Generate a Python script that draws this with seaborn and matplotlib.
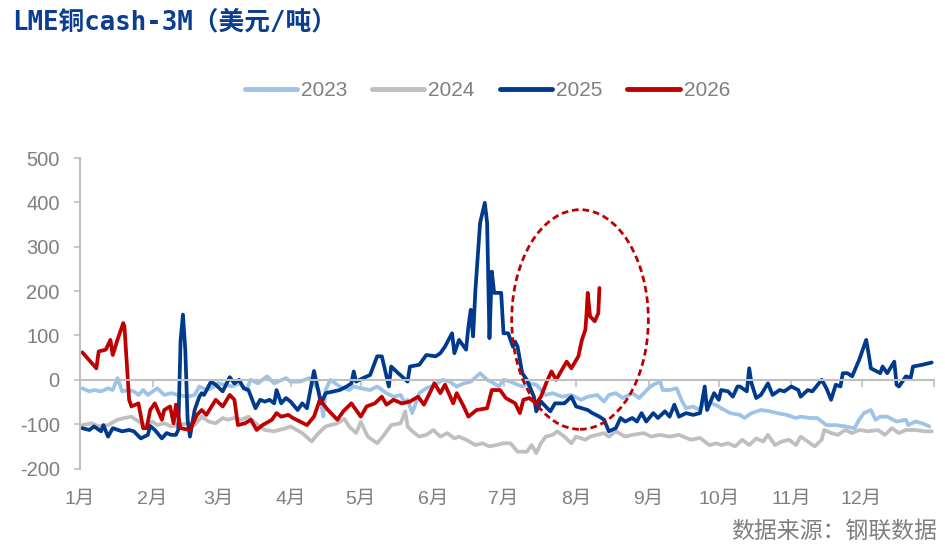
import numpy as np
import pandas as pd
import matplotlib
matplotlib.use("Agg")
import matplotlib.pyplot as plt
from matplotlib.lines import Line2D
from matplotlib.patches import Ellipse
import seaborn as sns

# 横轴用一年中的第几天，纵轴单位 美元/吨
years = ["2023", "2024", "2025", "2026"]

day_2023 = [1, 4, 6, 9, 12, 14, 16, 18, 21, 23, 25, 27, 29, 33, 36, 39, 42, 46, 49, 51, 54, 56, 59, 62, 65, 68, 71, 73, 76, 80,
            83, 88, 90, 94, 98, 102, 104, 105, 107, 111, 115, 117, 120, 124, 127, 131, 134, 137, 139, 140, 142, 145, 148, 152, 155, 158, 161, 164, 167, 171,
            174, 177, 179, 181, 184, 187, 189, 192, 195, 199, 202, 206, 210, 214, 217, 221, 224, 226, 229, 232, 236, 239, 243, 245, 248, 249, 252, 255, 257, 259,
            262, 265, 267, 270, 273, 274, 278, 282, 284, 287, 291, 295, 298, 302, 306, 308, 312, 315, 319, 323, 327, 331, 333, 335, 338, 340, 342, 345, 349, 353,
            354, 357, 360, 363]
val_2023 = [-19, -26, -23, -26, -19, -23, 4, -26, -23, -26, -34, -23, -34, -19, -34, -30, -34, -38, -34, -15, -23, -19, -8, -11, -15, -8, -23, 0, -8, 8,
            -8, 4, -4, -4, 4, -23, -83, -23, 0, -15, -23, -15, -19, -23, -15, -30, -38, -34, -53, -45, -75, -30, -19, -11, 0, -4, -15, -8, -4, 15,
            0, -8, -15, 0, -4, -11, -15, -8, -11, -34, -30, -38, -34, -45, -38, -34, -49, -34, -30, -41, -30, -41, -19, -11, -4, -23, -23, -19, -45, -64,
            -60, -68, -49, -53, -60, -64, -75, -79, -86, -75, -68, -71, -75, -79, -86, -83, -86, -86, -102, -102, -105, -109, -90, -75, -68, -90, -83, -83, -94, -90,
            -102, -94, -98, -105]

day_2024 = [1, 5, 8, 12, 16, 19, 22, 25, 28, 31, 33, 36, 39, 42, 46, 49, 52, 55, 58, 61, 63, 66, 69, 72, 76, 79, 83, 88, 90, 95,
            99, 102, 105, 110, 113, 115, 118, 120, 123, 127, 130, 133, 137, 139, 140, 142, 145, 148, 151, 154, 157, 160, 162, 165, 169, 172, 175, 178, 181, 184,
            187, 191, 193, 195, 197, 199, 202, 204, 207, 210, 212, 216, 218, 221, 224, 226, 229, 233, 236, 241, 244, 248, 252, 256, 261, 265, 269, 272, 274, 277,
            280, 283, 286, 289, 292, 294, 297, 300, 303, 306, 308, 311, 314, 317, 318, 321, 324, 327, 330, 333, 337, 341, 344, 347, 350, 353, 357, 361, 364]
val_2024 = [-102, -98, -105, -102, -90, -86, -83, -94, -102, -94, -102, -98, -105, -102, -98, -102, -83, -94, -98, -86, -90, -86, -90, -83, -102, -113, -116, -109, -105, -120,
            -139, -120, -105, -98, -88, -105, -120, -95, -128, -143, -124, -102, -98, -71, -105, -116, -128, -124, -113, -128, -120, -132, -128, -135, -147, -143, -150, -147, -143, -143,
            -162, -162, -147, -165, -143, -128, -124, -116, -128, -143, -128, -135, -128, -124, -120, -128, -116, -128, -124, -120, -128, -124, -128, -124, -135, -131, -147, -143, -147, -143,
            -150, -135, -147, -132, -139, -124, -147, -139, -135, -147, -128, -139, -150, -135, -113, -120, -124, -113, -120, -113, -116, -113, -124, -109, -120, -113, -113, -116, -116]

day_2025 = [1, 4, 6, 9, 10, 12, 14, 18, 21, 23, 26, 29, 30, 32, 35, 37, 39, 41, 42, 43, 44, 45, 46, 47, 49, 51, 52, 53, 56, 58,
            61, 64, 66, 68, 70, 72, 75, 77, 79, 81, 83, 84, 86, 88, 90, 93, 95, 97, 100, 103, 105, 111, 114, 116, 117, 118, 121, 124, 127, 129,
            130, 132, 133, 136, 140, 141, 145, 148, 152, 154, 156, 159, 160, 162, 165, 166, 167, 168, 169, 171, 173, 174, 175, 176, 177, 180, 181, 183, 185, 186,
            187, 189, 191, 194, 195, 197, 201, 203, 207, 210, 212, 217, 219, 222, 224, 226, 229, 231, 233, 236, 238, 240, 242, 245, 247, 250, 252, 254, 256, 259,
            262, 265, 267, 268, 271, 273, 274, 277, 279, 281, 282, 285, 286, 287, 289, 291, 294, 296, 299, 301, 304, 307, 308, 311, 313, 317, 319, 321, 323, 325,
            326, 328, 330, 333, 336, 337, 338, 342, 343, 345, 348, 349, 350, 353, 355, 356, 360, 364]
val_2025 = [-109, -113, -105, -116, -102, -128, -109, -116, -113, -116, -132, -124, -104, -113, -132, -120, -124, -124, -113, 90, 147, 68, -90, -128, -68, -38, -30, -34, -4, -11,
            -26, 6, -8, 0, -19, -23, -64, -45, -49, -45, -53, -23, -53, -41, -49, -68, -53, -64, 20, -53, -30, -23, -15, -8, 19, -4, 4, 11, 53, 53,
            30, -15, 30, 15, -4, 30, 34, 56, 53, 60, 75, 105, 60, 90, 68, 120, 158, 98, 203, 354, 399, 354, 94, 244, 196, 196, 105, 105, 75, 86,
            75, 15, 0, -38, -71, -49, -71, -53, -53, -38, -60, -68, -75, -83, -90, -116, -109, -86, -94, -86, -94, -75, -94, -75, -86, -71, -83, -56, -83, -75,
            -79, -75, -15, -68, -30, -45, -23, -26, -38, -15, -15, -26, 26, -8, -41, -34, -8, -34, -23, -26, -15, -23, -38, -23, -26, 0, -19, -45, -11, -15,
            15, 15, 8, 45, 90, 60, 26, 15, 30, 15, 41, -11, -15, 8, 4, 30, 34, 39]

day_2026 = [1, 7, 8, 11, 13, 14, 16, 18.5, 19, 21, 22, 25, 27, 28.5, 30, 32, 35, 36, 38.5, 40, 41, 43, 47, 50, 52, 54, 58, 61, 64, 66,
            67.5, 70.5, 73, 75.5, 78, 82, 84, 86, 89, 91, 97, 100, 102.5, 106, 110, 112.5, 116, 120, 122.5, 126, 129, 131, 134, 137.5, 141, 144.5, 147, 151.5, 154, 156,
            159.5, 161, 164, 166, 169.5, 174, 176, 179.5, 182, 186, 188, 189.5, 192, 195, 197, 199.5, 201.5, 203.5, 206, 208, 210, 213, 214.5, 216, 216.5, 217, 218, 220, 221.5, 222]
val_2026 = [62, 26, 64, 68, 90, 56, 90, 128, 120, -45, -60, -53, -109, -109, -68, -53, -90, -68, -60, -98, -56, -109, -113, -79, -68, -79, -45, -60, -34, -45,
            -102, -98, -90, -113, -102, -90, -75, -83, -79, -86, -102, -83, -45, -68, -90, -71, -53, -83, -60, -53, -38, -56, -45, -53, -49, -38, -56, -8, -30, -11,
            -53, -30, -60, -83, -68, -64, -23, -23, -41, -53, -75, -45, -41, -53, -38, -4, 19, 0, 23, 41, 26, 53, 90, 113, 150, 196, 143, 132, 150, 207]

month_starts = [0, 31, 59, 90, 120, 151, 181, 212, 243, 273, 304, 334, 365]
month_labels = ["1月", "2月", "3月", "4月", "5月", "6月", "7月", "8月", "9月", "10月", "11月", "12月"]
y_ticks = [-200, -100, 0, 100, 200, 300, 400, 500]

colors = {"2023": "#9dc3e6", "2024": "#bfbfbf", "2025": "#003a8c", "2026": "#c00000"}
axis_gray = "#bfbfbf"
text_gray = "#7f7f7f"

days = {"2023": day_2023, "2024": day_2024, "2025": day_2025, "2026": day_2026}
vals = {"2023": val_2023, "2024": val_2024, "2025": val_2025, "2026": val_2026}
df = pd.concat([pd.DataFrame({"day": days[y], "value": vals[y], "year": y}) for y in years], ignore_index=True)

sns.set_theme(style="white")
plt.rcParams["font.family"] = ["Liberation Sans", "Noto Sans CJK SC", "DejaVu Sans"]
plt.rcParams["axes.unicode_minus"] = False

fig = plt.figure(figsize=(9.5, 5.54), dpi=100)
ax = fig.add_axes([0.0842, 0.1542, 0.899, 0.5606])

sns.lineplot(data=df, x="day", y="value", hue="year", hue_order=years, palette=colors,
             estimator=None, sort=False, linewidth=2.7, legend=False, ax=ax)

ax.set_xlim(0, 365)
ax.set_ylim(-200, 500)
ax.set_xlabel("")
ax.set_ylabel("")

# 横轴线放在0处，月份标签放在底部
for s in ["top", "right"]:
    ax.spines[s].set_visible(False)
ax.spines["bottom"].set_position(("data", 0))
ax.spines["bottom"].set_color(axis_gray)
ax.spines["bottom"].set_linewidth(1.5)
ax.spines["left"].set_color(axis_gray)
ax.spines["left"].set_linewidth(1.5)
ax.set_xticks(month_starts)
ax.tick_params(axis="x", length=5, width=1.2, color=axis_gray, direction="out", labelbottom=False, bottom=True)
ax.set_yticks(y_ticks)
ax.tick_params(axis="y", length=4.5, width=1.2, color=axis_gray, direction="out", left=True,
               pad=10, labelsize=14.5, labelcolor=text_gray)

sec = ax.secondary_xaxis("bottom")
sec.set_xticks(month_starts[:12], month_labels)
sec.tick_params(length=0, pad=16, labelsize=14, labelcolor=text_gray)
sec.spines["bottom"].set_visible(False)

# 红色虚线椭圆标注
ell = Ellipse((213.7, 136), width=58.4, height=495, fill=False, edgecolor="#c00000",
              linewidth=2, linestyle=(0, (2.4, 1.4)), zorder=5)
ax.add_patch(ell)

handles = [Line2D([0], [0], color=colors[y], lw=3.5, solid_capstyle="round") for y in years]
fig.legend(handles, years, loc="center", bbox_to_anchor=(0.513, 0.836), ncol=4, frameon=False,
           fontsize=15, labelcolor=text_gray, handlelength=2.5, handletextpad=0.2, columnspacing=1.2)

fig.text(12 / 950, 1 - 22 / 554, "LME铜cash-3M（美元/吨）", fontsize=18.5, fontweight="bold",
         color="#0b3d91", va="center", ha="left", family=["DejaVu Sans Mono", "Noto Sans CJK SC"])
fig.text(937 / 950, 1 - 531 / 554, "数据来源：钢联数据", fontsize=16.5, color=text_gray,
         va="center", ha="right", family=["Noto Sans CJK SC", "DejaVu Sans"])

fig.savefig("out.png", dpi=100)
